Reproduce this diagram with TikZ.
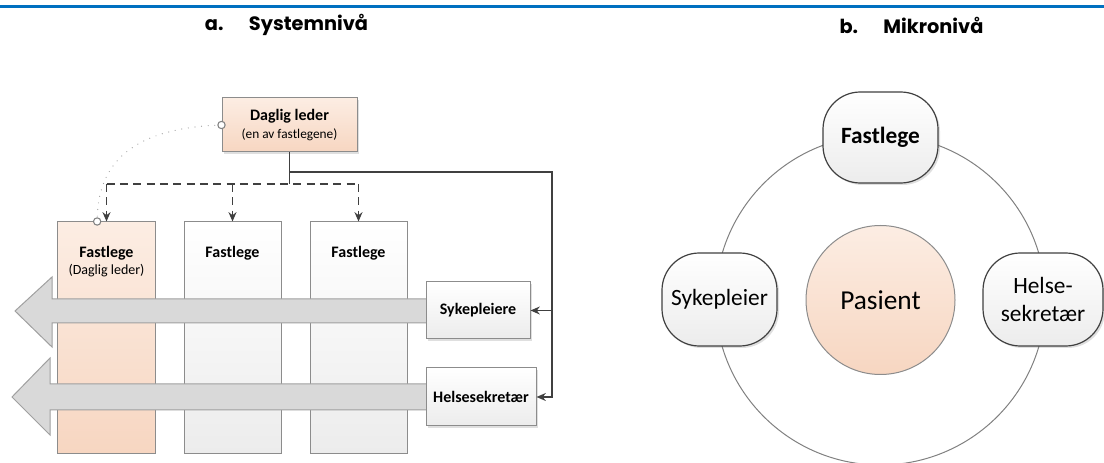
\documentclass[tikz,border=0pt]{standalone}
\usepackage{fontspec}
\setmainfont{Carlito}
\newfontfamily\headfont{Poppins}
\usetikzlibrary{arrows.meta,positioning,calc,shadows}

\definecolor{topblue}{HTML}{0070C0}
\definecolor{peachtop}{HTML}{FCEDE3}
\definecolor{peachbot}{HTML}{F7D6C1}
\definecolor{greybot}{HTML}{ECECEC}
\definecolor{edgegrey}{HTML}{8C8C8C}
\definecolor{linegrey}{HTML}{404040}
\definecolor{arrowfill}{HTML}{D9D9D9}
\definecolor{arrowedge}{HTML}{A0A0A0}

\tikzset{
  headline/.style={font=\headfont\bfseries\fontsize{14.5}{17}\selectfont},
  box/.style={draw=edgegrey,line width=0.75pt,rectangle,inner sep=0pt,
    top color=white,bottom color=greybot},
  peach/.style={top color=peachtop,bottom color=peachbot},
  shadowed/.style={drop shadow={shadow xshift=1.5pt,shadow yshift=-1.5pt,opacity=0.25}},
  link/.style={draw=linegrey,line width=1pt},
  dashlink/.style={draw=linegrey,line width=1.3pt,dash pattern=on 6pt off 4pt},
  dotlink/.style={draw=arrowedge,line width=0.9pt,dash pattern=on 0pt off 5pt,line cap=round},
  knob/.style={circle,draw=gray,fill=white,line width=0.8pt,minimum size=5.5pt,inner sep=0pt},
  bigarrow/.style={draw=arrowedge,fill=arrowfill,line width=0.75pt,line join=miter},
  roundbox/.style={rectangle,rounded corners=28pt,draw=linegrey,line width=0.9pt,
    top color=white,bottom color=greybot,shadowed,align=center,
    font=\fontsize{17.5}{21}\selectfont},
}

\begin{document}
\begin{tikzpicture}[x=0.75pt,y=-0.75pt,>={Stealth[length=7pt,width=6pt]},font=\fontsize{12}{14}\selectfont]
  \useasboundingbox (0,0) rectangle (1104,463);
  \draw[topblue,line width=2.5pt] (0,6.5) -- (1104,6.5);

  % titles
  \node[headline] (ta) at (286.5,25) {a.\hspace{19pt}Systemnivå};
  \node[headline] (tb) at (911.5,25) {b.\hspace{19pt}Mikronivå};

  % a. systemniva
  \node[box,peach,shadowed,minimum width=101.25pt,minimum height=40.5pt,align=center] (dl) at (289.5,125)
    {\textbf{Daglig leder}\\[-1pt]{\fontsize{10}{12}\selectfont(en av fastlegene)}};

  \node[box,peach,minimum width=73.5pt,minimum height=174pt] (fl1) at (106.5,338) {};
  \node[box,minimum width=72.75pt,minimum height=174pt] (fl2) at (232.5,338) {};
  \node[box,minimum width=72.75pt,minimum height=174pt] (fl3) at (358.5,338) {};
  \node[below=15pt of fl1.north,align=center] (fl1t) {\textbf{Fastlege}\\[-1pt]{\fontsize{10.5}{12}\selectfont(Daglig leder)}};
  \node[below=15pt of fl2.north] (fl2t) {\textbf{Fastlege}};
  \node[below=15pt of fl3.north] (fl3t) {\textbf{Fastlege}};

  % store piler
  \draw[bigarrow] (428,299) -- (52,299) -- (52,277) -- (15,311) -- (52,347) -- (52,323) -- (428,323) -- cycle;
  \draw[bigarrow] (428,384) -- (50,384) -- (50,358) -- (12,397) -- (50,435) -- (50,410) -- (428,410) -- cycle;

  \node[box,shadowed,minimum width=78pt,minimum height=42.75pt] (syk) at (478,310.5) {\textbf{Sykepleiere}};
  \node[box,shadowed,minimum width=82.5pt,minimum height=43.5pt] (hs) at (481,397) {\textbf{Helsesekretær}};

  % forbindelser
  \coordinate (hub) at (dl.south |- 0,184);
  \coordinate (rail) at (552,172);
  \draw[link] (dl.south) -- (hub);
  \draw[link,->] (dl.south |- rail) -- (rail) |- (hs.east);
  \draw[link,->] (rail |- syk.east) -- (syk.east);
  \draw[dashlink] (fl1.north |- hub) -- (fl3.north |- hub);
  \foreach \f in {fl1,fl2,fl3}{
    \draw[dashlink,->] (\f.north |- hub) -- (\f.north);
  }
  \draw[dotlink] (dl.west) .. controls (130,128) and (97,165) .. ([xshift=-7pt]fl1.north);
  \node[knob] (k1) at (dl.west) {};
  \node[knob] (k2) at ([xshift=-7pt]fl1.north) {};

  % b. mikroniva
  \node[circle,draw=gray,line width=0.75pt,minimum size=247.5pt] (ring) at (880.5,300) {};
  \node[circle,draw=edgegrey,line width=0.75pt,peach,minimum size=111.75pt,
    font=\fontsize{20.5}{24}\selectfont] (pas) at (880.5,300) {Pasient};
  \node[roundbox,minimum width=86.25pt,minimum height=68.25pt] (rfl) at (880.5,137.5) {\textbf{Fastlege}};
  \node[roundbox,minimum width=86.25pt,minimum height=69.75pt] (rsyk) at (719.5,299.5) {Sykepleier};
  \node[roundbox,minimum width=90pt,minimum height=69.75pt] (rhs) at (1043,299.5) {Helse-\\sekretær};
\end{tikzpicture}
\end{document}
